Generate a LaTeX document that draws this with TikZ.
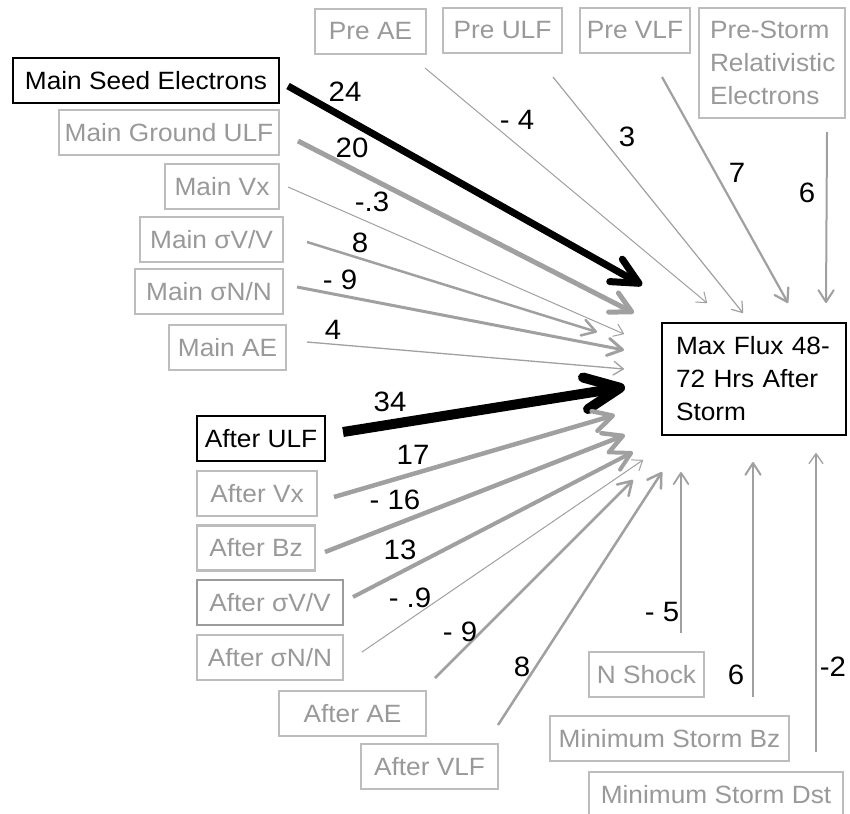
\documentclass[tikz,border=0pt]{standalone}
\usepackage{fontspec}
\setmainfont[FakeStretch=1.05]{Liberation Sans}
\usetikzlibrary{arrows.meta}
\definecolor{tgray}{HTML}{999999}
\definecolor{bgray}{HTML}{BDBDBD}
\definecolor{dgray}{HTML}{9C9C9C}
\definecolor{agray}{HTML}{A0A0A0}
\begin{document}
\begin{tikzpicture}[x=1pt,y=-1pt,
  box/.style={draw, line width=2.2pt, minimum height=45pt, inner sep=0pt,
    font=\fontsize{25}{33}\selectfont},
  gbox/.style={box, draw=bgray, text=tgray},
  kbox/.style={box, draw=black, line width=2.6pt, text=black},
  num/.style={font=\fontsize{28}{28}\selectfont, inner sep=0pt, text=black},
  arr/.style={-{Straight Barb[length=6pt 2.9, width=11pt 2.1, round]}},
  garr/.style={arr, draw=agray},
  karr/.style={arr, draw=black}]
\useasboundingbox (0,0) rectangle (850,813);
\clip (0,0) rectangle (850,813);

% boxes
\node[gbox, minimum width=111pt] (preAE) at (370.5,31.5) {Pre AE};
\node[gbox, minimum width=119pt] (preULF) at (502.5,30.5) {Pre ULF};
\node[gbox, minimum width=110pt] (preVLF) at (635,30.5) {Pre VLF};
\node[gbox, minimum width=146pt, minimum height=110pt, text width=124pt, inner xsep=11pt, align=left] (preRE) at (772,63) {Pre-Storm\\Relativistic\\Electrons};
\node[kbox, minimum width=266pt] (mse) at (146,80.5) {Main Seed Electrons};
\node[gbox, minimum width=220pt] (mgu) at (169,132.5) {Main Ground ULF};
\node[gbox, minimum width=114pt] (mvx) at (222,186.5) {Main Vx};
\node[gbox, minimum width=143pt] (msv) at (211.5,239.5) {Main σV/V};
\node[gbox, minimum width=148pt] (msn) at (209,291.5) {Main σN/N};
\node[gbox, minimum width=117pt] (mae) at (227.5,347.5) {Main AE};
\node[kbox, minimum width=128pt] (aulf) at (261,438.5) {After ULF};
\node[gbox, minimum width=120pt] (avx) at (257,493.5) {After Vx};
\node[gbox, minimum width=118pt] (abz) at (256,548) {After Bz};
\node[gbox, draw=dgray, minimum width=146pt] (asv) at (270,602.5) {After σV/V};
\node[gbox, minimum width=146pt] (asn) at (270,657.5) {After σN/N};
\node[gbox, minimum width=147pt] (aae) at (352.5,713.5) {After AE};
\node[gbox, minimum width=137pt] (avlf) at (429.5,766.5) {After VLF};
\node[gbox, minimum width=115pt] (nsh) at (646.5,674.5) {N Shock};
\node[gbox, minimum width=239pt] (mbz) at (669.5,738.5) {Minimum Storm Bz};
\node[gbox, minimum width=254pt] (mdst) at (716,794.5) {Minimum Storm Dst};
\node[kbox, minimum width=184pt, minimum height=112pt, text width=156pt, inner xsep=14pt, align=left] (max) at (754,379) {Max Flux 48-\\72 Hrs After\\Storm};

% connector end points
\coordinate (s1) at (288,86);   \coordinate (t1) at (642,285);
\coordinate (s2) at (298,141);  \coordinate (t2) at (634,313);
\coordinate (s3) at (288,187);  \coordinate (t3) at (624,334);
\coordinate (s4) at (307,242);  \coordinate (t4) at (597,332);
\coordinate (s5) at (297,287);  \coordinate (t5) at (624,350);
\coordinate (s6) at (307,342);  \coordinate (t6) at (624,369);
\coordinate (s7) at (343,432);  \coordinate (t7) at (625,387);
\coordinate (s8) at (334,497);  \coordinate (t8) at (615,415);
\coordinate (s9) at (325,552);  \coordinate (t9) at (625,435);
\coordinate (s10) at (353,597); \coordinate (t10) at (633,452);
\coordinate (s11) at (362,652); \coordinate (t11) at (643,460);
\coordinate (s12) at (435,678); \coordinate (t12) at (633,480);
\coordinate (s13) at (498,725); \coordinate (t13) at (662,472);
\coordinate (s14) at (681,633); \coordinate (t14) at (681,472);
\coordinate (s15) at (753,697); \coordinate (t15) at (753,462);
\coordinate (s16) at (816,752); \coordinate (t16) at (816,453);
\coordinate (s17) at (425,68);  \coordinate (t17) at (707,303);
\coordinate (s18) at (553,77);  \coordinate (t18) at (743,313);
\coordinate (s19) at (662,77);  \coordinate (t19) at (788,303);
\coordinate (s20) at (827,132); \coordinate (t20) at (826,303);

% connectors
\draw[karr, line width=7pt] (s1) -- (t1);
\draw[garr, line width=5pt] (s2) -- (t2);
\draw[garr, line width=1pt] (s3) -- (t3);
\draw[garr, line width=2.5pt] (s4) -- (t4);
\draw[garr, line width=3pt] (s5) -- (t5);
\draw[garr, line width=1.3pt] (s6) -- (t6);
\draw[karr, line width=10pt] (s7) -- (t7);
\draw[garr, line width=4.5pt] (s8) -- (t8);
\draw[garr, line width=4.5pt] (s9) -- (t9);
\draw[garr, line width=4pt] (s10) -- (t10);
\draw[garr, line width=1pt] (s11) -- (t11);
\draw[garr, line width=2.5pt] (s12) -- (t12);
\draw[garr, line width=2.5pt] (s13) -- (t13);
\draw[garr, line width=1.8pt] (s14) -- (t14);
\draw[garr, line width=2pt] (s15) -- (t15);
\draw[garr, line width=1.3pt] (s16) -- (t16);
\draw[garr, line width=1pt] (s17) -- (t17);
\draw[garr, line width=1.2pt] (s18) -- (t18);
\draw[garr, line width=2.2pt] (s19) -- (t19);
\draw[garr, line width=2pt] (s20) -- (t20);

% labels
\node[num] (n1) at (345,92) {24};
\node[num] (n2) at (352,148) {20};
\node[num] (n3) at (372,202) {-.3};
\node[num] (n4) at (360,243) {8};
\node[num] (n5) at (340,280) {- 9};
\node[num] (n6) at (333,330) {4};
\node[num] (n7) at (390,402) {34};
\node[num] (n8) at (413,455) {17};
\node[num] (n9) at (395,500) {- 16};
\node[num] (n10) at (400,550) {13};
\node[num] (n11) at (410,598) {- .9};
\node[num] (n12) at (460,632) {- 9};
\node[num] (n13) at (522,667) {8};
\node[num] (n14) at (662,612) {- 5};
\node[num] (n15) at (736,675) {6};
\node[num] (n16) at (833,667) {-2};
\node[num] (n17) at (517,120) {- 4};
\node[num] (n18) at (627,137) {3};
\node[num] (n19) at (737,173) {7};
\node[num] (n20) at (807,193) {6};
\end{tikzpicture}
\end{document}
